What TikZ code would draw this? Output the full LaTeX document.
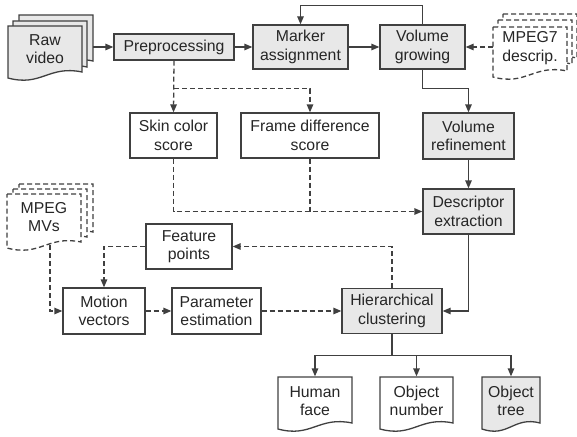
\documentclass[tikz,border=0pt]{standalone}
\usepackage{fontspec}
\setmainfont{Liberation Sans}
\usetikzlibrary{arrows.meta}
\definecolor{boxgray}{HTML}{E8E8E8}
\definecolor{linegray}{HTML}{404040}
% document outline with a wavy bottom: [style]{left}{top}{right}{bottom}
\newcommand{\docshape}[5][]{%
  \draw[#1] (#2,#3) -- (#4,#3) -- (#4,{#5-6}) .. controls ({#4-0.45*(#4-#2)},{#5-13}) and ({#2+0.45*(#4-#2)},{#5+9}) .. (#2,#5) -- cycle;}
\begin{document}
\begin{tikzpicture}[x=1pt, y=-1pt, color=linegray, line width=1.3pt,
    font=\fontsize{15.8}{18.5}\selectfont,
    box/.style={draw=linegray, text=black!85, align=center, inner sep=0pt},
    gbox/.style={box, fill=boxgray},
    doc/.style={text=black!85, align=center, inner sep=0pt},
    dline/.style={dash pattern=on 5pt off 3pt},
    flow/.style={-{Triangle[length=8pt,width=6.5pt]}},
    dflow/.style={flow, dline}]
  \useasboundingbox (0,0) rectangle (577,436);

  % inputs
  \docshape[fill=boxgray]{19}{15}{93}{67}
  \docshape[fill=boxgray]{13}{21}{87}{73}
  \docshape[fill=boxgray]{8}{26}{82}{78}
  \node[doc, minimum width=74pt] (raw) at (45,49) {Raw\\video};
  \coordinate (rawout) at (93,47);
  \docshape[dline, fill=white]{503}{14}{577}{64}
  \docshape[dline, fill=white]{498}{20}{572}{70}
  \docshape[dline, fill=white]{493}{27}{567}{77}
  \node[doc] (mpegseven) at (530,48) {MPEG7\\descrip.};
  \coordinate (mpegsevenout) at (493,47);
  \docshape[dline, fill=white]{19}{184}{93}{238}
  \docshape[dline, fill=white]{13}{189}{87}{243}
  \docshape[dline, fill=white]{7}{194}{81}{248}
  \node[doc] (mvs) at (44,217) {MPEG\\MVs};
  \coordinate (mvsout) at (50,245);

  % processing steps
  \node[gbox, minimum width=120pt, minimum height=26pt] (pre) at (174,47) {Preprocessing};
  \node[gbox, minimum width=95pt, minimum height=44pt] (marker) at (300.5,47) {Marker\\assignment};
  \node[gbox, minimum width=85pt, minimum height=44pt] (growing) at (422.5,47) {Volume\\growing};
  \node[box, minimum width=87pt, minimum height=45pt] (skin) at (173.5,135.5) {Skin color\\score};
  \node[box, minimum width=138pt, minimum height=45pt] (framediff) at (310,135.5) {Frame difference\\score};
  \node[gbox, minimum width=91pt, minimum height=46pt] (refine) at (468.5,136) {Volume\\refinement};
  \node[gbox, minimum width=91pt, minimum height=45pt] (descr) at (468.5,211.5) {Descriptor\\extraction};
  \node[box, minimum width=86pt, minimum height=45pt] (feature) at (189,246.5) {Feature\\points};
  \node[box, minimum width=82pt, minimum height=46pt] (motion) at (104,311) {Motion\\vectors};
  \node[box, minimum width=89pt, minimum height=46pt] (param) at (216.5,311) {Parameter\\estimation};
  \node[gbox, minimum width=100pt, minimum height=45pt] (hier) at (392,311) {Hierarchical\\clustering};

  % outputs
  \docshape{278}{377}{352}{429}
  \docshape{380}{377}{453}{429}
  \docshape[fill=boxgray]{482}{377}{540}{429}
  \node[doc, minimum height=48pt] (face) at (315,401) {Human\\face};
  \node[doc, minimum height=48pt] (number) at (416.5,401) {Object\\number};
  \node[doc, minimum height=48pt] (tree) at (511,401) {Object\\tree};

  % solid flow
  \draw[flow] (rawout) -- (pre.west);
  \draw[flow] (pre.east) -- (marker.west);
  \draw[flow] (marker.east) -- (growing.west);
  \draw[flow] (growing.north) -- ++(0,-19) -| (marker.north);
  \draw[flow] (growing.south) -- ++(0,19) -| (refine.north);
  \draw[flow] (refine.south) -- (descr.north);
  \draw[flow] (descr.south) |- (hier.east);
  \draw (hier.south) -- ++(0,21) coordinate (branch);
  \draw[flow] (branch) -| (face.north);
  \draw[flow] (branch) -| (number.north);
  \draw[flow] (branch) -| (tree.north);

  % dashed flow
  \draw[dflow] (mpegsevenout) -- (growing.east);
  \draw[dflow] (pre.south) -- (skin.north);
  \draw[dflow] (pre.south) ++(0,28) -| (framediff.north);
  \draw[dflow] (skin.south) |- (descr.west);
  \draw[dline] (framediff.south) -- (framediff.south |- descr.west);
  \draw[dflow] (hier.north) |- (feature.east);
  \draw[dflow] (feature.west) -| (motion.north);
  \draw[dflow] (mvsout) |- (motion.west);
  \draw[dflow] (motion.east) -- (param.west);
  \draw[dflow] (param.east) -- (hier.west);
\end{tikzpicture}
\end{document}
